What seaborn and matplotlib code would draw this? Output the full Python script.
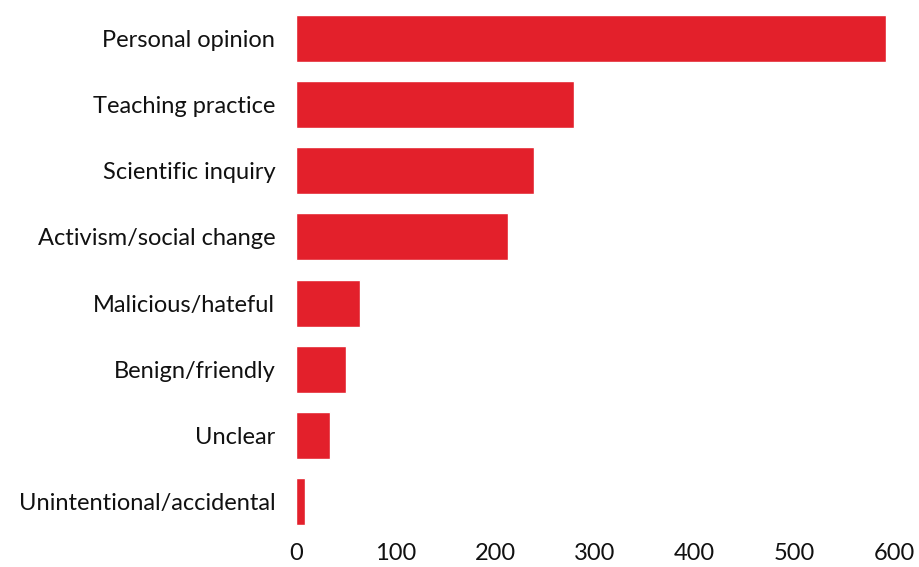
import pandas as pd
import seaborn as sns
import matplotlib.pyplot as plt

# Categories and counts
categories = ["Personal opinion", "Teaching practice", "Scientific inquiry",
              "Activism/social change", "Malicious/hateful", "Benign/friendly",
              "Unclear", "Unintentional/accidental"]
counts = [592, 279, 239, 213, 64, 50, 34, 9]
x_ticks = [0, 100, 200, 300, 400, 500, 600]

df = pd.DataFrame({"category": categories, "count": counts})

sns.set_style("white")
plt.rcParams['font.family'] = ['Lato', 'DejaVu Sans']

fig = plt.figure(figsize=(9.19, 5.67), dpi=100)
ax = fig.add_axes([296 / 919, 1 - 535 / 567, (894 - 296) / 919, 530 / 567])

sns.barplot(data=df, x="count", y="category", color="#E3202B",
            saturation=1, width=0.71, errorbar=None, ax=ax)

ax.set_xlim(0, 600)
ax.set_xticks(x_ticks)
ax.set_xlabel("")
ax.set_ylabel("")
ax.tick_params(axis="both", length=0, labelsize=17, colors="#111111")
ax.tick_params(axis="y", pad=15)
ax.tick_params(axis="x", pad=6)
sns.despine(ax=ax, left=True, bottom=True)

plt.savefig("out.png", dpi=100)
plt.close()
